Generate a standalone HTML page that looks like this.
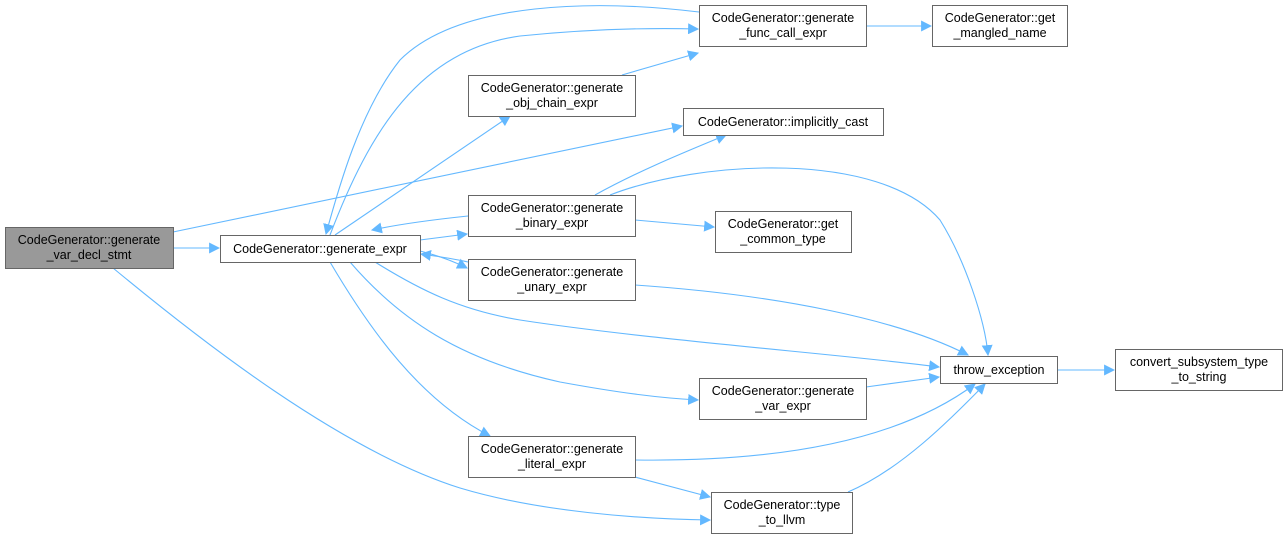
<!DOCTYPE html>
<html><head><meta charset="utf-8"><style>
html,body{margin:0;padding:0;background:#fff;}
svg{display:block;}
text{font-family:"Liberation Sans",sans-serif;font-size:12.5px;fill:#000;}
</style></head><body>
<svg width="1288" height="543" viewBox="0 0 1288 543" xmlns="http://www.w3.org/2000/svg">
<defs>
<marker id="a" viewBox="0 0 10 10" refX="9" refY="5" markerWidth="11" markerHeight="11" orient="auto" markerUnits="userSpaceOnUse">
<path d="M0,0 L10,5 L0,10 z" fill="#63b8ff"/></marker>
</defs>
<g fill="none" stroke="#63b8ff" stroke-width="1.1" marker-end="url(#a)">
<path d="M173,248 L219,248"/>
<path d="M173,232 L682,126"/>
<path d="M113,268 C200,340 340,450 460,488 C540,512 640,519 710,520"/>
<path d="M330,235 C370,130 420,50 520,36 C600,28 660,28 698,29"/>
<path d="M699,12 C600,0 460,0 400,60 C360,110 338,190 326,234"/>
<path d="M335,235 L510,116"/>
<path d="M622,75 L698,53"/>
<path d="M420,240 L467,234"/>
<path d="M468,216 C430,220 400,224 372,230"/>
<path d="M595,195 C640,170 690,150 726,135"/>
<path d="M635,220 L714,227"/>
<path d="M610,195 C700,160 880,150 940,220 C965,260 985,320 988,355"/>
<path d="M420,251 C440,256 455,262 467,268"/>
<path d="M468,262 C450,258 435,256 421,254"/>
<path d="M635,285 C780,295 900,320 968,355"/>
<path d="M375,262 C420,290 460,310 520,320 C650,340 850,355 939,367"/>
<path d="M350,262 C400,320 460,360 560,382 C620,393 660,398 698,400"/>
<path d="M866,387 L939,377"/>
<path d="M330,262 C370,330 420,400 490,436"/>
<path d="M635,460 C780,462 900,440 975,384"/>
<path d="M635,477 L710,497"/>
<path d="M848,492 C900,470 950,420 985,384"/>
<path d="M1057,370 L1114,370"/>
<path d="M866,26 L931,26"/>
</g>
<g stroke="#666" stroke-width="1" fill="#fff">
<rect x="5.5" y="227.5" width="168" height="41" fill="#999"/>
<rect x="220.5" y="235.5" width="200" height="27"/>
<rect x="699.5" y="5.5" width="167" height="41"/>
<rect x="932.5" y="5.5" width="135" height="41"/>
<rect x="468.5" y="75.5" width="167" height="41"/>
<rect x="683.5" y="108.5" width="200" height="27"/>
<rect x="468.5" y="195.5" width="167" height="41"/>
<rect x="715.5" y="211.5" width="136" height="41"/>
<rect x="468.5" y="259.5" width="167" height="41"/>
<rect x="940.5" y="356.5" width="117" height="27"/>
<rect x="1115.5" y="349.5" width="167" height="41"/>
<rect x="699.5" y="378.5" width="167" height="41"/>
<rect x="468.5" y="436.5" width="167" height="41"/>
<rect x="711.5" y="492.5" width="141" height="41"/>
</g>
<g text-anchor="middle">
<text x="89" y="244">CodeGenerator::generate</text><text x="89" y="259" text-anchor="middle">_var_decl_stmt</text>
<text x="320" y="253">CodeGenerator::generate_expr</text>
<text x="783" y="22">CodeGenerator::generate</text><text x="783" y="37">_func_call_expr</text>
<text x="1000" y="22">CodeGenerator::get</text><text x="1000" y="37">_mangled_name</text>
<text x="552" y="92">CodeGenerator::generate</text><text x="552" y="107">_obj_chain_expr</text>
<text x="783" y="126">CodeGenerator::implicitly_cast</text>
<text x="552" y="212">CodeGenerator::generate</text><text x="552" y="227">_binary_expr</text>
<text x="783" y="228">CodeGenerator::get</text><text x="783" y="243">_common_type</text>
<text x="552" y="276">CodeGenerator::generate</text><text x="552" y="291">_unary_expr</text>
<text x="999" y="374">throw_exception</text>
<text x="1199" y="366">convert_subsystem_type</text><text x="1199" y="381">_to_string</text>
<text x="783" y="395">CodeGenerator::generate</text><text x="783" y="410">_var_expr</text>
<text x="552" y="453">CodeGenerator::generate</text><text x="552" y="468">_literal_expr</text>
<text x="782" y="509">CodeGenerator::type</text><text x="782" y="524">_to_llvm</text>
</g>
</svg>
</body></html>
